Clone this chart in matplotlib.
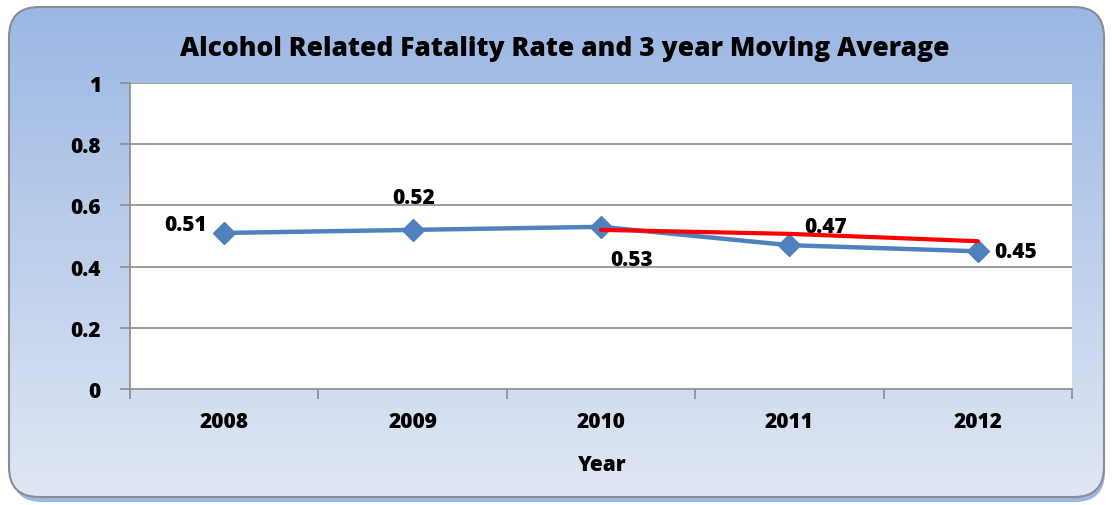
import matplotlib
matplotlib.use("Agg")
import matplotlib.pyplot as plt
import numpy as np
from matplotlib.patches import FancyBboxPatch

years = ["2008", "2009", "2010", "2011", "2012"]
rate = [0.51, 0.52, 0.53, 0.47, 0.45]
moving_avg_years = ["2010", "2011", "2012"]
moving_avg = [0.52, 0.507, 0.483]
y_ticks = [0, 0.2, 0.4, 0.6, 0.8, 1]
y_tick_labels = ["0", "0.2", "0.4", "0.6", "0.8", "1"]
title = "Alcohol Related Fatality Rate and 3 year Moving Average"
xlabel = "Year"

FONT = "Open Sans"
WEIGHT = 800
W, H = 1112, 506
fig = plt.figure(figsize=(W / 100, H / 100), dpi=100)
fig.patch.set_facecolor("white")

# background frame with gradient
bg = fig.add_axes([0, 0, 1, 1], zorder=-10)
bg.set_xlim(0, W)
bg.set_ylim(H, 0)
bg.axis("off")
R = 30
shadow = FancyBboxPatch((12, 13), 1093, 490, boxstyle=f"round,pad=0,rounding_size={R}",
                        facecolor="#9ab8e6", edgecolor="none", zorder=0)
bg.add_patch(shadow)
frame = FancyBboxPatch((9, 8), 1095, 490, boxstyle=f"round,pad=0,rounding_size={R}",
                       facecolor="none", edgecolor="#8c8c8c", linewidth=1.5, zorder=3)
bg.add_patch(frame)
grad = np.linspace(0, 1, 256).reshape(-1, 1)
top = np.array([0x9b, 0xb7, 0xe3]) / 255
bot = np.array([0xe0, 0xe7, 0xf4]) / 255
img = top[None, None, :] * (1 - grad[:, :, None]) + bot[None, None, :] * grad[:, :, None]
im = bg.imshow(img, extent=(9, 1104, 498, 8), aspect="auto", zorder=1)
clip = FancyBboxPatch((9, 8), 1095, 490, boxstyle=f"round,pad=0,rounding_size={R}",
                      facecolor="none", edgecolor="none", transform=bg.transData)
bg.add_patch(clip)
im.set_clip_path(clip)

ax = fig.add_axes([130 / W, 1 - 390 / H, (1072 - 130) / W, (390 - 84) / H])
ax.set_facecolor("white")
x = np.arange(len(years))
xm = [years.index(y) for y in moving_avg_years]

for yv in y_ticks[1:]:
    ax.axhline(yv, color="#8c8c8c", linewidth=1.2, zorder=1)

ax.plot(x, rate, color="#4f81bd", linewidth=3.2, marker="D", markersize=11,
        markerfacecolor="#4f81bd", markeredgecolor="#4f81bd", zorder=3)
ax.plot(xm, moving_avg, color="#ff0000", linewidth=3, zorder=4, solid_capstyle="round")

ax.set_xlim(-0.5, len(years) - 0.5)
ax.set_ylim(0, 1)
ax.set_yticks(y_ticks)
ax.set_yticklabels(y_tick_labels, fontfamily=FONT, fontweight=WEIGHT, fontsize=15)
ax.set_xticks(x)
ax.set_xticklabels(years, fontfamily=FONT, fontweight=WEIGHT, fontsize=15)
ax.set_xticks(np.arange(-0.5, len(years)), minor=True)
ax.tick_params(axis="x", which="major", length=0, pad=16)
ax.tick_params(axis="x", which="minor", length=7, width=1.2, color="#8c8c8c", direction="out")
ax.tick_params(axis="y", length=7, width=1.2, color="#8c8c8c", pad=14)

for s in ["top", "right"]:
    ax.spines[s].set_visible(False)
for s in ["left", "bottom"]:
    ax.spines[s].set_color("#8c8c8c")
    ax.spines[s].set_linewidth(1.2)

ax.set_xlabel(xlabel, fontfamily=FONT, fontweight=WEIGHT, fontsize=15, labelpad=16)
fig.text(565 / W, 1 - 49 / H, title, ha="center", va="center",
         fontfamily=FONT, fontweight=WEIGHT, fontsize=19)

# data labels
offsets = [(-39, 8), (1, 32), (31, -33), (36, 19), (38, 0)]
for i, (dx, dy) in enumerate(offsets):
    ax.annotate(f"{rate[i]:.2f}", (x[i], rate[i]), xytext=(dx, dy), textcoords="offset pixels",
                ha="center", va="center", fontfamily=FONT, fontweight=WEIGHT, fontsize=15, zorder=5)

fig.savefig("out.png", dpi=100)
